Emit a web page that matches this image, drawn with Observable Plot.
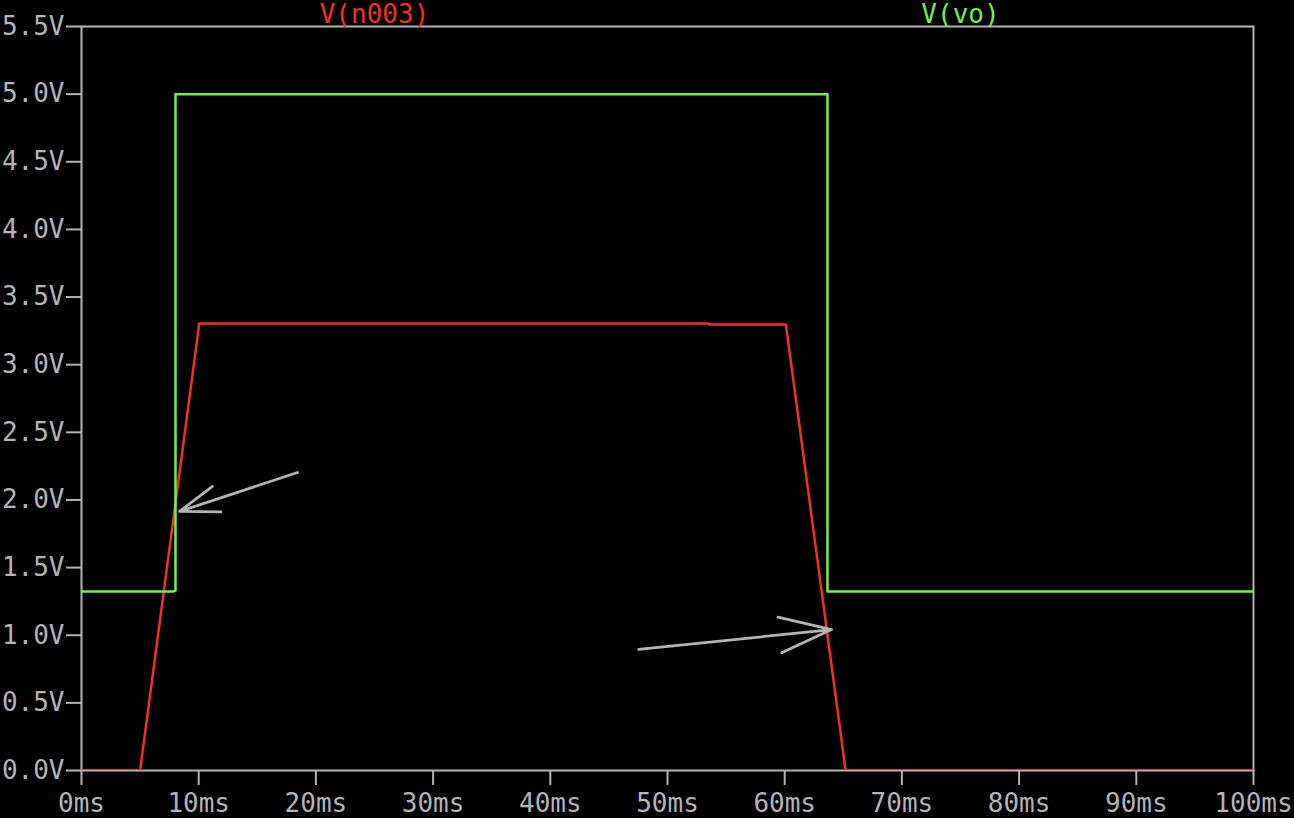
<!DOCTYPE html>
<html>
<head>
<meta charset="utf-8">
<script src="https://cdn.jsdelivr.net/npm/d3@7"></script>
<script src="https://cdn.jsdelivr.net/npm/@observablehq/plot@0.6"></script>
<style>
  html, body { margin: 0; padding: 0; background: #000; overflow: hidden; }
</style>
</head>
<body>
<div id="chart"></div>
<script>
// Trace V(n003) (time in ms, voltage in V)
const redTime  = [0, 5.0, 10.05, 53.5, 53.5, 60.1, 65.2, 100];
const redVolts = [0, 0, 3.305, 3.305, 3.297, 3.297, 0, 0];

// Trace V(vo)
const greenTime  = [0, 7.8, 8.02, 8.02, 63.65, 63.65, 100];
const greenVolts = [1.323, 1.323, 1.33, 5.0, 5.0, 1.323, 1.323];

// Annotation arrows (data units)
const arrowX1 = [18.43, 47.53];
const arrowY1 = [2.203, 0.895];
const arrowX2 = [8.36, 64.0];
const arrowY2 = [1.915, 1.042];

// Legend
const traceNames = ["V(n003)", "V(vo)"];

// Ticks
const xTicks = [0, 10, 20, 30, 40, 50, 60, 70, 80, 90, 100];
const xTickLabels = ["0ms","10ms","20ms","30ms","40ms","50ms","60ms","70ms","80ms","90ms","100ms"];
const yTicks = [0, 0.5, 1, 1.5, 2, 2.5, 3, 3.5, 4, 4.5, 5, 5.5];
const yTickLabels = ["0.0V","0.5V","1.0V","1.5V","2.0V","2.5V","3.0V","3.5V","4.0V","4.5V","5.0V","5.5V"];

const RED = "#ee3322";
const GREEN = "#74f04a";
const GRAY = "#b4b4b4";

const red = redTime.map((t, i) => ({t, v: redVolts[i]}));
const green = greenTime.map((t, i) => ({t, v: greenVolts[i]}));
const arrows = arrowX1.map((x, i) => ({x1: x, y1: arrowY1[i], x2: arrowX2[i], y2: arrowY2[i]}));
const xDomain = [0, 100];
const yDomain = [0, 5.5];
const legend = traceNames.map((name, i) => ({
  name,
  x: xDomain[0] + (i + 0.5) * (xDomain[1] - xDomain[0]) / traceNames.length,
  y: yDomain[1],
  color: i === 0 ? RED : GREEN
}));

const chart = Plot.plot({
  width: 1294,
  height: 818,
  marginLeft: 81,
  marginRight: 41,
  marginTop: 26,
  marginBottom: 48,
  style: {background: "#000", color: GRAY, fontFamily: "DejaVu Sans Mono, monospace", fontSize: "26px", overflow: "visible"},
  x: {domain: xDomain},
  y: {domain: yDomain},
  marks: [
    Plot.frame({stroke: GRAY, strokeWidth: 2}),
    Plot.axisX({ticks: xTicks, tickFormat: (d) => xTickLabels[xTicks.indexOf(d)], tickSize: 15, tickPadding: 8,
      stroke: GRAY, strokeWidth: 2, fill: GRAY, fontSize: 26, label: null}),
    Plot.axisY({ticks: yTicks, tickFormat: (d) => yTickLabels[yTicks.indexOf(d)], tickSize: 15, tickPadding: 2,
      stroke: GRAY, strokeWidth: 2, fill: GRAY, fontSize: 26, label: null}),
    Plot.line(red, {x: "t", y: "v", stroke: RED, strokeWidth: 2.5, curve: "linear", clip: "frame"}),
    Plot.line(green, {x: "t", y: "v", stroke: GREEN, strokeWidth: 2.5, curve: "linear", clip: "frame"}),
    Plot.arrow(arrows, {x1: "x1", y1: "y1", x2: "x2", y2: "y2", stroke: GRAY, strokeWidth: 2.75,
      headLength: 30, headAngle: 38, insetStart: 0, insetEnd: 0}),
    Plot.text(legend, {x: "x", y: "y", text: "name", fill: "color", fontSize: 26,
      textAnchor: "middle", lineAnchor: "bottom", dy: -4, clip: false})
  ]
});
document.getElementById("chart").appendChild(chart);
</script>
</body>
</html>
